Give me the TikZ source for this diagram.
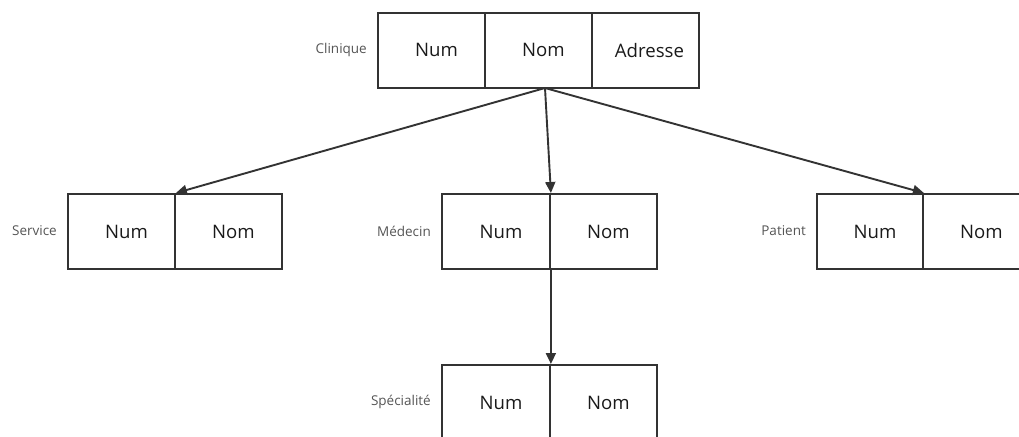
\documentclass[tikz,border=0pt]{standalone}
\usepackage{fontspec}
\setmainfont{Open Sans}
\usetikzlibrary{arrows.meta}
\definecolor{edge}{HTML}{333333}
\definecolor{labelgray}{HTML}{555555}
\definecolor{txt}{HTML}{1A1A1A}
\begin{document}
\begin{tikzpicture}[x=1pt,y=-1pt,
  cell/.style={draw=edge, line width=1.9pt, minimum height=75pt, inner sep=0pt,
    anchor=north west, text=txt, font=\fontsize{18.6}{20}\selectfont},
  c107/.style={cell, minimum width=107pt},
  tag/.style={text=labelgray, font=\fontsize{13.5}{15}\selectfont, anchor=east, inner sep=0pt},
  link/.style={draw=edge, line width=1.9pt, -{Triangle[length=11pt,width=10pt]}}]
\useasboundingbox (0,0) rectangle (1019,436);

% Clinique
\node[c107] (cl-num) at (377,12) {\hspace*{10pt}Num};
\node[c107] (cl-nom) at (484,12) {\hspace*{10pt}Nom};
\node[c107] (cl-adr) at (591,12) {\hspace*{8pt}Adresse};
\node[tag] (cl-tag) at (367,49.5) {Clinique};

% Service
\node[c107] (sv-num) at (67,193) {\hspace*{10pt}Num};
\node[c107] (sv-nom) at (174,193) {\hspace*{10pt}Nom};
\node[tag] (sv-tag) at (57,231) {Service};

% Médecin
\node[c107, minimum width=108pt] (md-num) at (441,193) {\hspace*{10pt}Num};
\node[c107] (md-nom) at (549,193) {\hspace*{10pt}Nom};
\node[tag] (md-tag) at (431,231) {Médecin};

% Patient
\node[c107, minimum width=106pt] (pt-num) at (816,193) {\hspace*{10pt}Num};
\node[c107] (pt-nom) at (922,193) {\hspace*{10pt}Nom};
\node[tag] (pt-tag) at (806,231) {Patient};

% Spécialité
\node[c107, minimum width=108pt] (sp-num) at (441,364) {\hspace*{10pt}Num};
\node[c107] (sp-nom) at (549,364) {\hspace*{10pt}Nom};
\node[tag] (sp-tag) at (431,402) {Spécialité};

% connectors
\coordinate (root) at (545,88);
\draw[link] (root) -- (sv-num.north east);
\draw[link] (root) -- (md-num.north east);
\draw[link] (root) -- (pt-num.north east);
\draw[link] (md-num.south east) -- (sp-num.north east);
\end{tikzpicture}
\end{document}
